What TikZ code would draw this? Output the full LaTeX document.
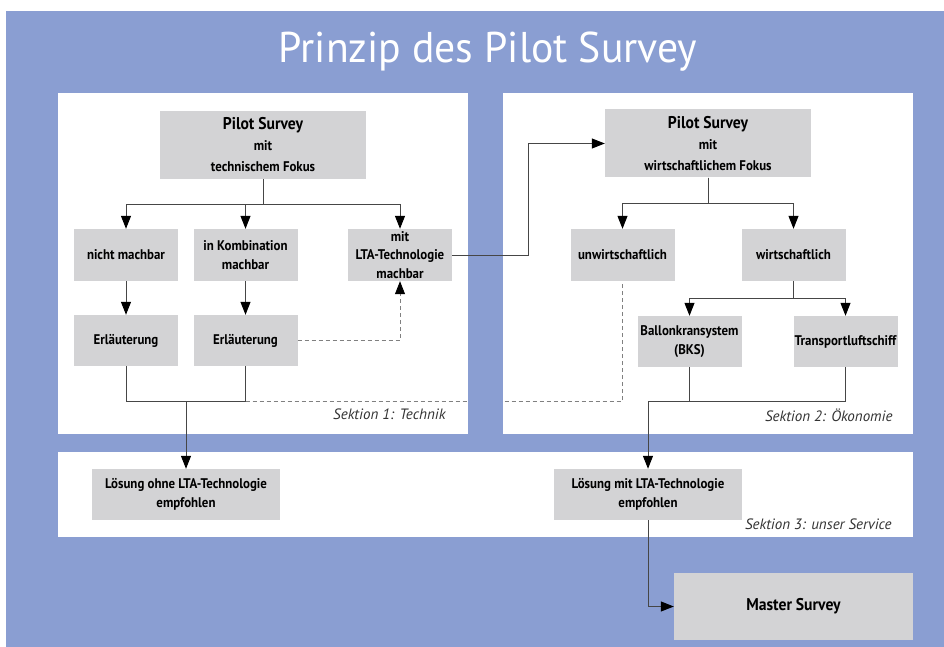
\documentclass[tikz,border=0pt]{standalone}
\usepackage{fontspec}
\setmainfont{PT Sans}
\newfontfamily\boxfont[FakeStretch=0.92]{PT Sans}
\newfontfamily\titlefont[FakeStretch=0.97]{PT Sans}
\usetikzlibrary{arrows.meta,positioning,calc}
\definecolor{surveyblue}{RGB}{138,158,210}
\definecolor{boxgray}{RGB}{211,211,213}
\definecolor{linegray}{RGB}{70,70,70}

\begin{document}
\begin{tikzpicture}[
    x=1pt,y=-1pt,
    panel/.style={rectangle,fill=white,inner sep=0pt},
    box/.style={rectangle,fill=boxgray,inner sep=0pt,align=center,minimum width=104pt,minimum height=52pt,font=\boxfont\bfseries\fontsize{14}{18.5}\selectfont},
    bigbox/.style={box,minimum width=206pt,minimum height=68pt,font=\boxfont\bfseries\fontsize{14}{21}\selectfont},
    widebox/.style={box,minimum width=188pt,minimum height=51pt},
    sektion/.style={anchor=east,font=\itshape\fontsize{15}{17}\selectfont,text=black!80},
    link/.style={draw=linegray,line width=1pt},
    hint/.style={draw=gray,line width=0.8pt,dash pattern=on 4pt off 3pt},
    >={Triangle[length=13pt,width=10pt,color=black]}]
    \useasboundingbox (0,0) rectangle (944,647);
    \fill[white] (0,0) rectangle (944,647);
    \fill[surveyblue] (6,11) rectangle (944,647);

    \node[font=\titlefont\fontsize{43}{50}\selectfont,text=white,anchor=base] (title) at (488,63) {Prinzip des Pilot Survey};

    \node[panel,minimum width=410pt,minimum height=341pt] (panel1) at (263,263.5) {};
    \node[panel,minimum width=410pt,minimum height=341pt] (panel2) at (708,263.5) {};
    \node[panel,minimum width=855pt,minimum height=85pt] (panel3) at (485.5,494.5) {};

    \node[bigbox] (techfokus) at (263,145) {{\fontsize{17}{21}\selectfont Pilot Survey}\\mit\\technischem Fokus};
    \node[box] (nicht) at (126,255) {nicht machbar};
    \node[box] (kombi) at (245.5,255) {in Kombination\\machbar};
    \node[box] (lta) at (400,255) {mit\\LTA-Technologie\\machbar};
    \node[box,minimum height=51pt] (erl1) at (126,340.5) {Erläuterung};
    \node[box,minimum height=51pt] (erl2) at (245.5,340.5) {Erläuterung};

    \node[bigbox] (oekfokus) at (708,143.5) {{\fontsize{17}{21}\selectfont Pilot Survey}\\mit\\wirtschaftlichem Fokus};
    \node[box] (unwirt) at (622.5,255) {unwirtschaftlich};
    \node[box] (wirt) at (793.5,255) {wirtschaftlich};
    \node[box,minimum height=51pt] (ballon) at (689.5,341.5) {Ballonkransystem\\(BKS)};
    \node[box,minimum height=51pt] (transport) at (845.5,341.5) {Transportluftschiff};

    \node[widebox] (ohne) at (186,494.5) {Lösung ohne LTA-Technologie\\empfohlen};
    \node[widebox] (mitlta) at (648,494.5) {Lösung mit LTA-Technologie\\empfohlen};
    \node[box,minimum width=239pt,minimum height=67pt,font=\boxfont\bfseries\fontsize{17}{21}\selectfont] (master) at (793.5,606.5) {Master Survey};

    \node[sektion] (sek1) at (449,414) {Sektion 1: Technik};
    \node[sektion] (sek2) at (896,415) {Sektion 2: Ökonomie};
    \node[sektion] (sek3) at (895,524) {Sektion 3: unser Service};

    \coordinate (m1) at (186,401);
    \coordinate (m2) at (648,401);

    \draw[hint,->] (erl2.east) -| (lta.south);
    \begin{scope}
      \clip (panel1.north west) rectangle (panel1.south east) (panel2.north west) rectangle (panel2.south east);
      \draw[hint] (erl2.south |- m1) -| (unwirt.south);
    \end{scope}

    \draw[link,->] (techfokus.south) -- ++(0,25) -| (nicht.north);
    \draw[link,->] (techfokus.south) -- ++(0,25) -| (kombi.north);
    \draw[link,->] (techfokus.south) -- ++(0,25) -| (lta.north);
    \draw[link,->] (nicht) -- (erl1);
    \draw[link,->] (kombi) -- (erl2);
    \draw[link] (erl1.south) |- (m1);
    \draw[link] (erl2.south) |- (m1);
    \draw[link,->] (m1) -- (ohne.north);

    \draw[link,->] (lta.east) -- ++(76,0) |- (oekfokus.west);
    \draw[link,->] (oekfokus.south) -- ++(0,26) -| (unwirt.north);
    \draw[link,->] (oekfokus.south) -- ++(0,26) -| (wirt.north);
    \draw[link,->] (wirt.south) -- ++(0,17) -| (ballon.north);
    \draw[link,->] (wirt.south) -- ++(0,17) -| (transport.north);
    \draw[link] (ballon.south) -- (ballon.south |- m2);
    \draw[link] (transport.south) |- (m2);
    \draw[link,->] (m2) -- (mitlta.north);
    \draw[link,->] (mitlta.south) |- (master.west);
  \end{tikzpicture}
\end{document}
